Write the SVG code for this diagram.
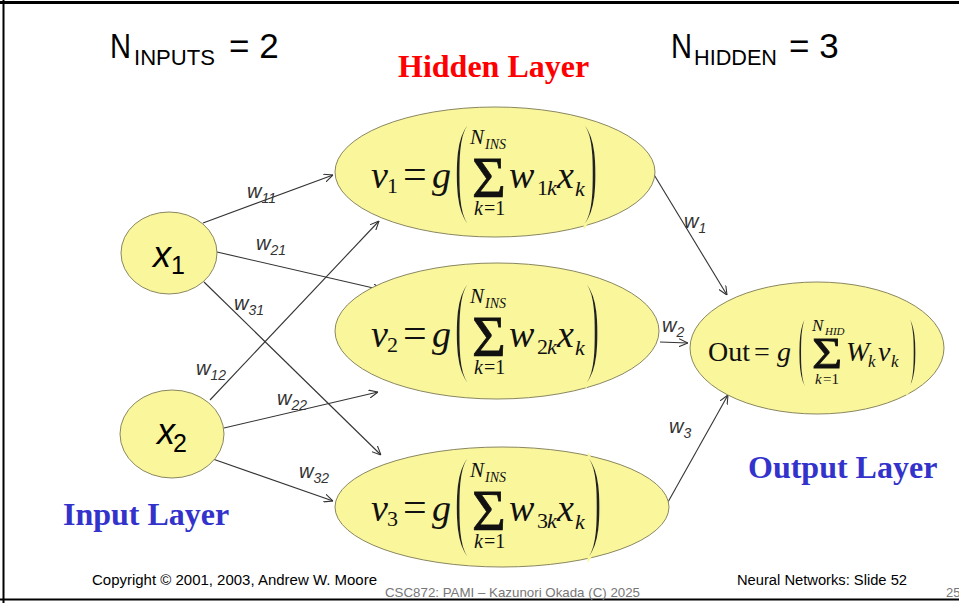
<svg xmlns="http://www.w3.org/2000/svg" width="959" height="603" viewBox="0 0 959 603">
<style>
.node{fill:#f9f69c;stroke:#8a8760;stroke-width:1}
.edge{stroke:#333;stroke-width:1.1;fill:none;marker-end:url(#arr)}
.lab{font-family:"Liberation Sans",Arial,sans-serif;font-style:italic;fill:#333}
.w{font-size:20px}
.ws{font-size:14px}
.hdr{font-family:"Liberation Sans",Arial,sans-serif;fill:#000}
.mi{font-family:"Liberation Serif","Times New Roman",serif;font-style:italic;fill:#111}
.mr{font-family:"Liberation Serif","Times New Roman",serif;fill:#111}
.par{font-family:"Liberation Serif","Times New Roman",serif;fill:#222;stroke:#f9f69c;stroke-width:4}
.sig{font-family:"Liberation Serif","Times New Roman",serif;fill:#111;stroke:#111;stroke-width:0.8}
.title{font-family:"Liberation Serif","Times New Roman",serif;font-weight:bold;font-size:32px}
.foot{font-family:"Liberation Sans",Arial,sans-serif;font-size:14px;fill:#000}
.foot2{font-family:"Liberation Sans",Arial,sans-serif;font-size:13px;fill:#777}
</style>
<defs>
<marker id="arr" viewBox="0 0 10 10" refX="10" refY="5" markerWidth="9" markerHeight="9" markerUnits="userSpaceOnUse" orient="auto">
<path d="M0,0.5 L10,5 L0,9.5" fill="none" stroke="#333" stroke-width="1.2"/>
</marker>
</defs>
<rect width="959" height="603" fill="#fff"/>
<g id="frame">
<line x1="0" y1="2.5" x2="959" y2="2.5" stroke="#000" stroke-width="3"/>
<line x1="3.5" y1="0" x2="3.5" y2="603" stroke="#000" stroke-width="2"/>
<line x1="0" y1="599.5" x2="959" y2="599.5" stroke="#000" stroke-width="2"/>
</g>
<g id="connectors">
<line class="edge" x1="203" y1="223" x2="333" y2="175"/>
<line class="edge" x1="217" y1="252" x2="382" y2="290"/>
<line class="edge" x1="204" y1="282" x2="381" y2="455"/>
<line class="edge" x1="210" y1="400" x2="379" y2="221"/>
<line class="edge" x1="224" y1="428" x2="378" y2="392"/>
<line class="edge" x1="210" y1="458" x2="333" y2="501"/>
<line class="edge" x1="653" y1="173" x2="727" y2="295"/>
<line class="edge" x1="660" y1="342" x2="688" y2="343"/>
<line class="edge" x1="668" y1="502" x2="728" y2="395"/>
</g>
<g id="edge-labels">
<text class="lab" x="247" y="198"><tspan class="w">w</tspan><tspan class="ws" dy="5">11</tspan></text>
<text class="lab" x="256" y="250"><tspan class="w">w</tspan><tspan class="ws" dy="5">21</tspan></text>
<text class="lab" x="234" y="310"><tspan class="w">w</tspan><tspan class="ws" dy="5">31</tspan></text>
<text class="lab" x="196" y="375"><tspan class="w">w</tspan><tspan class="ws" dy="5">12</tspan></text>
<text class="lab" x="277" y="405"><tspan class="w">w</tspan><tspan class="ws" dy="5">22</tspan></text>
<text class="lab" x="299" y="478"><tspan class="w">w</tspan><tspan class="ws" dy="5">32</tspan></text>
<text class="lab" x="684" y="228"><tspan class="w">w</tspan><tspan class="ws" dy="5">1</tspan></text>
<text class="lab" x="662" y="332"><tspan class="w">w</tspan><tspan class="ws" dy="5">2</tspan></text>
<text class="lab" x="669" y="433"><tspan class="w">w</tspan><tspan class="ws" dy="5">3</tspan></text>
</g>
<g id="header">
<text class="hdr" x="110" y="58" font-size="35" textLength="21" lengthAdjust="spacingAndGlyphs">N</text>
<text class="hdr" x="134" y="65" font-size="22" textLength="81" lengthAdjust="spacingAndGlyphs">INPUTS</text>
<text class="hdr" x="229" y="58" font-size="35">= 2</text>
<text class="hdr" x="671" y="58" font-size="35" textLength="21" lengthAdjust="spacingAndGlyphs">N</text>
<text class="hdr" x="694" y="65" font-size="22" textLength="83" lengthAdjust="spacingAndGlyphs">HIDDEN</text>
<text class="hdr" x="789" y="58" font-size="35">= 3</text>
<text class="title" x="398" y="77" fill="#ff0000">Hidden Layer</text>
<text class="title" x="63" y="525" fill="#3333cc">Input Layer</text>
<text class="title" x="748" y="478" fill="#3333cc">Output Layer</text>
</g>
<g id="x1">
<ellipse class="node" cx="169" cy="253" rx="48" ry="41"/>
<text class="lab" x="153" y="267" font-size="36" style="fill:#000">x</text>
<text class="hdr" x="171" y="274" font-size="25">1</text>
</g>
<g id="x2">
<ellipse class="node" cx="172" cy="434" rx="52" ry="44"/>
<text class="lab" x="157" y="444" font-size="36" style="fill:#000">x</text>
<text class="hdr" x="173" y="452" font-size="25">2</text>
</g>
<g id="v1">
<ellipse class="node" cx="495" cy="172" rx="160" ry="65"/>
<text class="mi" x="371" y="188" font-size="38">v</text>
<text class="mr" x="387" y="193" font-size="22">1</text>
<text class="mr" x="403" y="188" font-size="42">=</text>
<text class="mi" x="432" y="188" font-size="38">g</text>
<text class="par" transform="translate(454,202) scale(0.4,1)" font-size="114">(</text>
<text class="mi" x="470" y="144" font-size="21">N</text>
<text class="mi" x="485" y="149" font-size="14">INS</text>
<text class="sig" x="472" y="197" font-size="58">Σ</text>
<text class="mi" x="474" y="215" font-size="20">k</text>
<text class="mr" x="484" y="215" font-size="20">=1</text>
<text class="mi" x="509" y="188" font-size="38">w</text>
<text class="mr" x="537" y="195" font-size="22">1</text>
<text class="mi" x="547" y="195" font-size="22">k</text>
<text class="mi" x="557" y="188" font-size="38">x</text>
<text class="mi" x="575" y="196" font-size="22">k</text>
<text class="par" transform="translate(583,202) scale(0.4,1)" font-size="114">)</text>
</g>
<g id="v2">
<ellipse class="node" cx="497" cy="331" rx="162" ry="68"/>
<text class="mi" x="371" y="347" font-size="38">v</text>
<text class="mr" x="387" y="352" font-size="22">2</text>
<text class="mr" x="403" y="347" font-size="42">=</text>
<text class="mi" x="432" y="347" font-size="38">g</text>
<text class="par" transform="translate(454,361) scale(0.4,1)" font-size="114">(</text>
<text class="mi" x="470" y="303" font-size="21">N</text>
<text class="mi" x="485" y="308" font-size="14">INS</text>
<text class="sig" x="472" y="356" font-size="58">Σ</text>
<text class="mi" x="474" y="374" font-size="20">k</text>
<text class="mr" x="484" y="374" font-size="20">=1</text>
<text class="mi" x="509" y="347" font-size="38">w</text>
<text class="mr" x="537" y="354" font-size="22">2</text>
<text class="mi" x="547" y="354" font-size="22">k</text>
<text class="mi" x="557" y="347" font-size="38">x</text>
<text class="mi" x="575" y="355" font-size="22">k</text>
<text class="par" transform="translate(585,361) scale(0.4,1)" font-size="114">)</text>
</g>
<g id="v3">
<ellipse class="node" cx="502" cy="507" rx="167" ry="60"/>
<text class="mi" x="371" y="521" font-size="38">v</text>
<text class="mr" x="387" y="526" font-size="22">3</text>
<text class="mr" x="403" y="521" font-size="42">=</text>
<text class="mi" x="432" y="521" font-size="38">g</text>
<text class="par" transform="translate(454,535) scale(0.4,1)" font-size="114">(</text>
<text class="mi" x="470" y="477" font-size="21">N</text>
<text class="mi" x="485" y="482" font-size="14">INS</text>
<text class="sig" x="472" y="530" font-size="58">Σ</text>
<text class="mi" x="474" y="548" font-size="20">k</text>
<text class="mr" x="484" y="548" font-size="20">=1</text>
<text class="mi" x="509" y="521" font-size="38">w</text>
<text class="mr" x="537" y="528" font-size="22">3</text>
<text class="mi" x="547" y="528" font-size="22">k</text>
<text class="mi" x="557" y="521" font-size="38">x</text>
<text class="mi" x="575" y="529" font-size="22">k</text>
<text class="par" transform="translate(587,535) scale(0.4,1)" font-size="114">)</text>
</g>
<g id="out">
<ellipse class="node" cx="817" cy="348" rx="127" ry="66"/>
<text class="mr" x="708" y="361" font-size="28">Out</text>
<text class="mr" x="754" y="361" font-size="28">=</text>
<text class="mi" x="777" y="361" font-size="28">g</text>
<text class="par" transform="translate(797,374) scale(0.4,1)" font-size="88">(</text>
<text class="mi" x="812" y="331" font-size="17">N</text>
<text class="mi" x="825" y="335" font-size="11">HID</text>
<text class="sig" transform="translate(812,368) scale(1.15,1)" font-size="45">Σ</text>
<text class="mi" x="815" y="384" font-size="15">k</text>
<text class="mr" x="823" y="384" font-size="15">=1</text>
<text class="mi" x="846" y="361" font-size="28">W</text>
<text class="mi" x="868" y="367" font-size="17">k</text>
<text class="mi" x="878" y="361" font-size="28">v</text>
<text class="mi" x="891" y="367" font-size="17">k</text>
<text class="par" transform="translate(906,374) scale(0.4,1)" font-size="88">)</text>
</g>
<g id="footer">
<text class="foot" x="92" y="585" textLength="285" lengthAdjust="spacingAndGlyphs">Copyright © 2001, 2003, Andrew W. Moore</text>
<text class="foot" x="737" y="585" textLength="170" lengthAdjust="spacingAndGlyphs">Neural Networks: Slide 52</text>
<text class="foot2" x="385" y="597" textLength="255" lengthAdjust="spacingAndGlyphs">CSC872: PAMI – Kazunori Okada (C) 2025</text>
<text class="foot2" x="946" y="597">25</text>
</g>
</svg>
